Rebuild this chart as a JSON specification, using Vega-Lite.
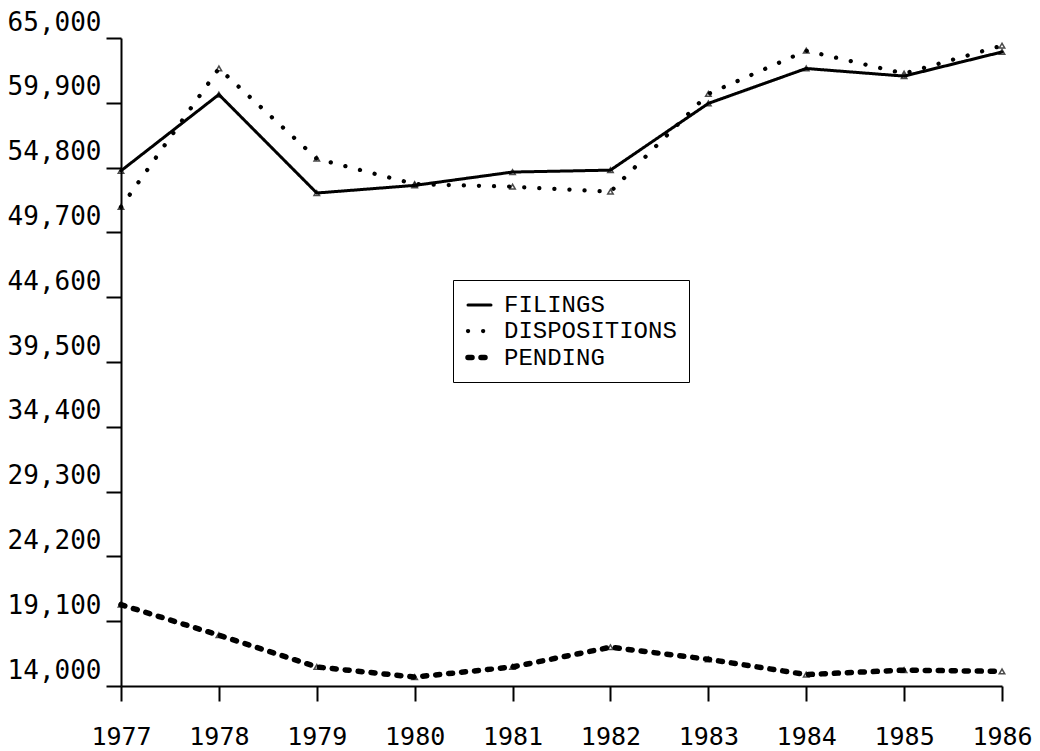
{
  "$schema": "https://vega.github.io/schema/vega-lite/v6.json",
  "width": 881,
  "height": 648,
  "autosize": {"type": "none"},
  "padding": {"left": 121, "top": 38, "right": 38, "bottom": 65},
  "background": "white",
  "config": {"view": {"stroke": null}},
  "data": {
    "values": [
      {"year": 1977, "series": "FILINGS", "value": 54550},
      {"year": 1978, "series": "FILINGS", "value": 60550},
      {"year": 1979, "series": "FILINGS", "value": 52800},
      {"year": 1980, "series": "FILINGS", "value": 53400},
      {"year": 1981, "series": "FILINGS", "value": 54450},
      {"year": 1982, "series": "FILINGS", "value": 54600},
      {"year": 1983, "series": "FILINGS", "value": 59850},
      {"year": 1984, "series": "FILINGS", "value": 62600},
      {"year": 1985, "series": "FILINGS", "value": 62000},
      {"year": 1986, "series": "FILINGS", "value": 63900},
      {"year": 1977, "series": "DISPOSITIONS", "value": 51700},
      {"year": 1978, "series": "DISPOSITIONS", "value": 62600},
      {"year": 1979, "series": "DISPOSITIONS", "value": 55500},
      {"year": 1980, "series": "DISPOSITIONS", "value": 53500},
      {"year": 1981, "series": "DISPOSITIONS", "value": 53300},
      {"year": 1982, "series": "DISPOSITIONS", "value": 52900},
      {"year": 1983, "series": "DISPOSITIONS", "value": 60600},
      {"year": 1984, "series": "DISPOSITIONS", "value": 64000},
      {"year": 1985, "series": "DISPOSITIONS", "value": 62200},
      {"year": 1986, "series": "DISPOSITIONS", "value": 64400},
      {"year": 1977, "series": "PENDING", "value": 20400},
      {"year": 1978, "series": "PENDING", "value": 18000},
      {"year": 1979, "series": "PENDING", "value": 15500},
      {"year": 1980, "series": "PENDING", "value": 14700},
      {"year": 1981, "series": "PENDING", "value": 15500},
      {"year": 1982, "series": "PENDING", "value": 17050},
      {"year": 1983, "series": "PENDING", "value": 16100},
      {"year": 1984, "series": "PENDING", "value": 14900},
      {"year": 1985, "series": "PENDING", "value": 15250},
      {"year": 1986, "series": "PENDING", "value": 15150}
    ]
  },
  "encoding": {
    "x": {
      "field": "year",
      "type": "quantitative",
      "scale": {"domain": [1977, 1986], "nice": false, "zero": false},
      "axis": {
        "title": null,
        "values": [1977, 1978, 1979, 1980, 1981, 1982, 1983, 1984, 1985, 1986],
        "format": "d",
        "grid": false,
        "domainColor": "black",
        "domainWidth": 2,
        "tickColor": "black",
        "tickWidth": 2,
        "tickSize": 15,
        "labelFont": "DejaVu Sans Mono",
        "labelFontSize": 25,
        "labelColor": "black",
        "labelPadding": 23,
        "labelFlush": false,
        "labelOverlap": false
      }
    },
    "y": {
      "field": "value",
      "type": "quantitative",
      "scale": {"domain": [14000, 65000], "nice": false, "zero": false},
      "axis": {
        "title": null,
        "values": [14000, 19100, 24200, 29300, 34400, 39500, 44600, 49700, 54800, 59900, 65000],
        "format": ",d",
        "grid": false,
        "domainColor": "black",
        "domainWidth": 2,
        "tickColor": "black",
        "tickWidth": 2,
        "tickSize": 15,
        "labelFont": "DejaVu Sans Mono",
        "labelFontSize": 26,
        "labelColor": "black",
        "labelPadding": 5,
        "labelBaseline": "alphabetic",
        "labelOffset": -8,
        "labelFlush": false,
        "labelOverlap": false
      }
    }
  },
  "layer": [
    {
      "mark": {"type": "line", "color": "black", "strokeCap": "round"},
      "encoding": {
        "strokeDash": {
          "field": "series",
          "type": "nominal",
          "scale": {
            "domain": ["FILINGS", "DISPOSITIONS", "PENDING"],
            "range": [[1, 0], [0.1, 15], [4, 9]]
          },
          "legend": {
            "title": null,
            "orient": "none",
            "legendX": 332,
            "legendY": 242,
            "strokeColor": "black",
            "fillColor": "white",
            "padding": 12,
            "labelFont": "Liberation Mono",
            "labelFontSize": 24,
            "labelColor": "black",
            "labelLimit": 400,
            "labelOffset": 10,
            "symbolType": "stroke",
            "symbolSize": 529,
            "symbolStrokeColor": "black",
            "symbolStrokeWidth": 3,
            "rowPadding": 0,
            "encode": {
              "symbols": {
                "update": {
                  "strokeCap": {"value": "round"},
                  "strokeWidth": {"signal": "datum.value === 'DISPOSITIONS' ? 4.5 : 3"}
                }
              }
            }
          }
        },
        "strokeWidth": {
          "field": "series",
          "type": "nominal",
          "scale": {
            "domain": ["FILINGS", "DISPOSITIONS", "PENDING"],
            "range": [3, 5.5, 3.5]
          },
          "legend": null
        }
      }
    },
    {
      "mark": {"type": "point", "shape": "triangle-up", "filled": false, "color": "black", "size": 30, "strokeWidth": 1.5},
      "encoding": {}
    }
  ]
}
